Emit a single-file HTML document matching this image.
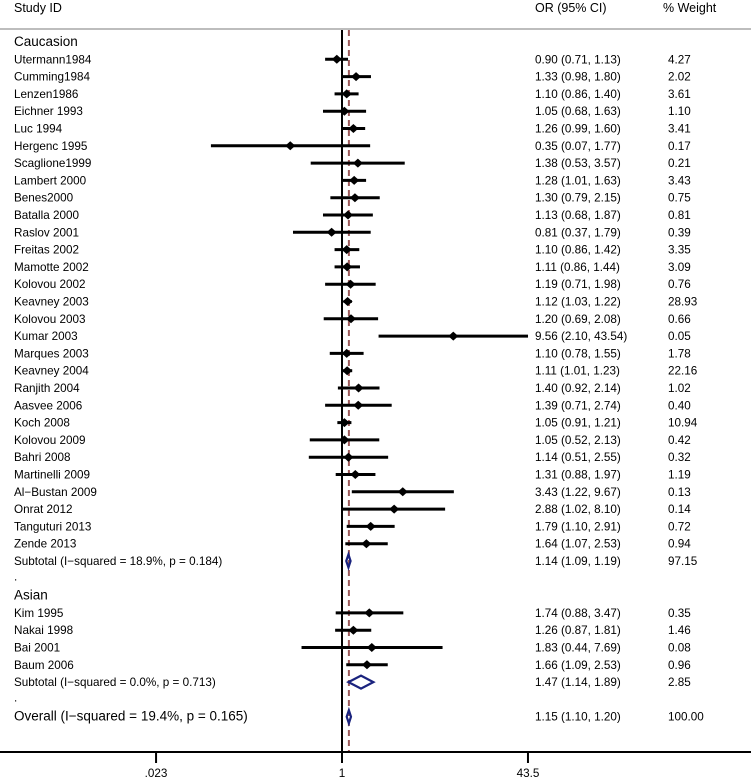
<!DOCTYPE html>
<html><head><meta charset="utf-8"><style>
html,body{margin:0;padding:0;background:#fff;}
svg{display:block;font-family:"Liberation Sans",sans-serif;}
</style></head><body>
<svg id="plot" width="751" height="779" viewBox="0 0 751 779" xmlns="http://www.w3.org/2000/svg">
<text x="14" y="12" font-size="12.5">Study  ID</text>
<text x="535" y="12" font-size="12.5">OR (95% CI)</text>
<text x="663" y="12" font-size="12.5">% Weight</text>
<rect x="0" y="28" width="751" height="2" fill="#bdbdbd"/>
<g id="marks"></g>
<rect x="0" y="751" width="751" height="2" fill="#000"/>
<g id="axis"></g>
</svg>
<script>
const studyNames = ["Utermann1984","Cumming1984","Lenzen1986","Eichner 1993","Luc 1994","Hergenc 1995","Scaglione1999","Lambert 2000","Benes2000","Batalla 2000","Raslov 2001","Freitas 2002","Mamotte 2002","Kolovou 2002","Keavney 2003","Kolovou 2003","Kumar  2003","Marques 2003","Keavney 2004","Ranjith 2004","Aasvee 2006","Koch 2008","Kolovou 2009","Bahri 2008","Martinelli 2009","Al−Bustan 2009","Onrat 2012","Tanguturi 2013","Zende 2013"];
const studyOR = [0.90,1.33,1.10,1.05,1.26,0.35,1.38,1.28,1.30,1.13,0.81,1.10,1.11,1.19,1.12,1.20,9.56,1.10,1.11,1.40,1.39,1.05,1.05,1.14,1.31,3.43,2.88,1.79,1.64];
const studyLo = [0.71,0.98,0.86,0.68,0.99,0.07,0.53,1.01,0.79,0.68,0.37,0.86,0.86,0.71,1.03,0.69,2.10,0.78,1.01,0.92,0.71,0.91,0.52,0.51,0.88,1.22,1.02,1.10,1.07];
const studyHi = [1.13,1.80,1.40,1.63,1.60,1.77,3.57,1.63,2.15,1.87,1.79,1.42,1.44,1.98,1.22,2.08,43.54,1.55,1.23,2.14,2.74,1.21,2.13,2.55,1.97,9.67,8.10,2.91,2.53];
const studyW = ["4.27","2.02","3.61","1.10","3.41","0.17","0.21","3.43","0.75","0.81","0.39","3.35","3.09","0.76","28.93","0.66","0.05","1.78","22.16","1.02","0.40","10.94","0.42","0.32","1.19","0.13","0.14","0.72","0.94"];
const asianNames = ["Kim 1995","Nakai 1998","Bai 2001","Baum 2006"];
const asianOR = [1.74,1.26,1.83,1.66];
const asianLo = [0.88,0.87,0.44,1.09];
const asianHi = [3.47,1.81,7.69,2.53];
const asianW = ["0.35","1.46","0.08","0.96"];
const pooledLabels = ["Subtotal  (I−squared = 18.9%, p = 0.184)","Subtotal  (I−squared = 0.0%, p = 0.713)","Overall  (I−squared = 19.4%, p = 0.165)"];
const pooledOR = [1.14,1.47,1.15];
const pooledLo = [1.09,1.14,1.10];
const pooledHi = [1.19,1.89,1.20];
const pooledW = ["97.15","2.85","100.00"];
const tickValues = [0.023,1,43.5];
const tickLabels = [".023","1","43.5"];
const overallEffect = 1.15;

const NS="http://www.w3.org/2000/svg";
const X0=342, PER_DECADE=113.5;
function xs(v){return X0+PER_DECADE*Math.log10(v);}
function ys(row){return 42+17.3*row;}
const marks=document.getElementById('marks');
const axis=document.getElementById('axis');
function mk(tag,attrs,parent){const e=document.createElementNS(NS,tag);for(const k in attrs)e.setAttribute(k,attrs[k]);(parent||marks).appendChild(e);return e;}
function txt(x,y,s,size,parent){const t=mk('text',{x:x,y:y+4,'font-size':size},parent);t.textContent=s;return t;}
function fmt(o,l,h){return o.toFixed(2)+" ("+l.toFixed(2)+", "+h.toFixed(2)+")";}

// reference lines
let nl=mk('line',{x1:X0,y1:30,x2:X0,y2:752,stroke:'#000','stroke-width':2});


let ol=mk('line',{x1:xs(overallEffect),y1:30,x2:xs(overallEffect),y2:752,stroke:'#9c5a5a','stroke-width':2,'stroke-dasharray':'6,4'});



function studyRow(row,name,o,l,h,w){
  const y=ys(row);
  let lab=txt(14,y,name,11.7);
  
  
  let ci=mk('line',{x1:xs(l),y1:y,x2:xs(h),y2:y,stroke:'#000','stroke-width':3});
  
  
  const cx=xs(o);
  let d=mk('polygon',{points:(cx-5)+','+y+' '+cx+','+(y-4.5)+' '+(cx+5)+','+y+' '+cx+','+(y+4.5),fill:'#000'});
  
  
  let e=txt(535,y,fmt(o,l,h),11.7);
  
  
  let ww=txt(668,y,w,11.7);
  
  
}
function pooledRow(row,i,size){
  const y=ys(row);
  let lab=txt(14,y,pooledLabels[i],size);
  
  
  const a=xs(pooledLo[i]),b=xs(pooledHi[i]),c=xs(pooledOR[i]);
  let d=mk('polygon',{points:a+','+y+' '+c+','+(y-6.5)+' '+b+','+y+' '+c+','+(y+6.5),fill:'none',stroke:'#1a237e','stroke-width':2.2});
  
  
  let e=txt(535,y,fmt(pooledOR[i],pooledLo[i],pooledHi[i]),11.7);
  
  
  let ww=txt(668,y,pooledW[i],11.7);
  
  
}
let g1=txt(14,ys(0),"Caucasion",13.5);


studyNames.forEach((n,i)=>studyRow(i+1,n,studyOR[i],studyLo[i],studyHi[i],studyW[i]));
pooledRow(30,0,11.7);
let d1=txt(14,ys(31)-2,".",11.7);


let g2=txt(14,ys(32),"Asian",13.5);


asianNames.forEach((n,i)=>studyRow(33+i,n,asianOR[i],asianLo[i],asianHi[i],asianW[i]));
pooledRow(37,1,11.7);
let d2=txt(14,ys(38)-2,".",11.7);


pooledRow(39,2,13.5);

tickValues.forEach((v,i)=>{
  const x=xs(v);
  let t=mk('line',{x1:x,y1:752,x2:x,y2:763,stroke:'#000','stroke-width':2},axis);
  
  
  let l=mk('text',{x:x,y:777,'font-size':11.7,'text-anchor':'middle'},axis);
  l.textContent=tickLabels[i];
  
  
});
</script>
</body></html>
